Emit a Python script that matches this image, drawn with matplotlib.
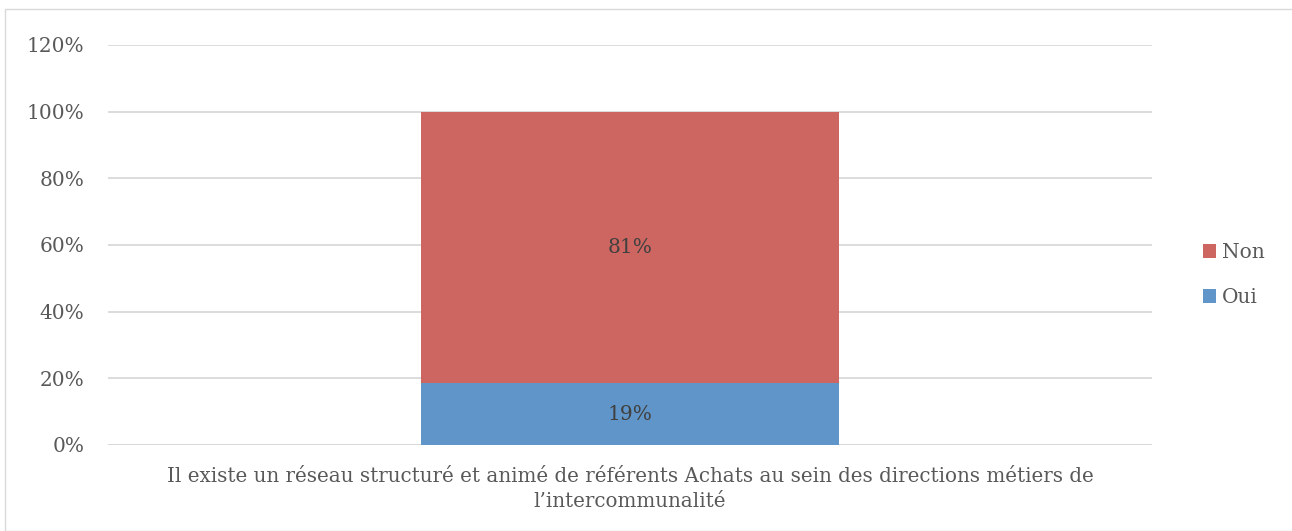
import matplotlib
matplotlib.use("Agg")
import matplotlib.pyplot as plt
from matplotlib.patches import Rectangle

# data
category = ["Il existe un réseau structuré et animé de référents Achats au sein des directions métiers de\nl\u2019intercommunalité"]
oui = [0.186]
non = [0.814]
series_names = ["Oui", "Non"]
yticks = [0, 0.2, 0.4, 0.6, 0.8, 1.0, 1.2]

RED = "#CD6660"
BLUE = "#6095C9"
TXT = "#595959"
GRID = "#D9D9D9"

plt.rcParams["font.family"] = ["DejaVu Serif"]

fig = plt.figure(figsize=(12.92, 5.31), dpi=100)
fig.patches.append(Rectangle((5 / 1292, 0), 1.0, 1 - 9 / 531, transform=fig.transFigure,
                             fill=False, edgecolor=GRID, linewidth=1.0))
ax = fig.add_axes([108 / 1292, 1 - 445 / 531, (1152 - 108) / 1292, (445 - 45) / 531])

x = range(len(category))
b1 = ax.bar(x, oui, width=0.4, color=BLUE, label=series_names[0], zorder=2)
b2 = ax.bar(x, non, width=0.4, bottom=oui, color=RED, label=series_names[1], zorder=2)

for bars, vals, base in [(b1, oui, [0] * len(oui)), (b2, non, oui)]:
    for rect, v, b in zip(bars, vals, base):
        ax.text(rect.get_x() + rect.get_width() / 2, b + v / 2, f"{round(v * 100)}%",
                ha="center", va="center", fontsize=14.5, color="#404040")

ax.set_xlim(-0.5, 0.5)
ax.set_ylim(0, 1.2)
ax.set_yticks(yticks)
ax.set_yticklabels([f"{int(round(t * 100))}%" for t in yticks])
ax.set_xticks(list(x))
ax.set_xticklabels(category, linespacing=1.4)
ax.tick_params(axis="both", length=0, labelsize=14.5, colors=TXT, pad=17)
ax.tick_params(axis="x", labelsize=14.3, pad=16)
ax.yaxis.grid(True, color=GRID, linewidth=1.3, zorder=0)
for s in ax.spines.values():
    s.set_visible(False)
ax.axhline(0, color=GRID, linewidth=1.3, zorder=1)

handles, labels = ax.get_legend_handles_labels()
leg = fig.legend(handles[::-1], labels[::-1], loc="center left",
                 bbox_to_anchor=(1185 / 1292, 1 - 275 / 531), frameon=False,
                 fontsize=14.5, handlelength=0.65, handleheight=0.65,
                 handletextpad=0.3, labelspacing=1.3)
for t in leg.get_texts():
    t.set_color(TXT)

fig.savefig("out.png", dpi=100)
